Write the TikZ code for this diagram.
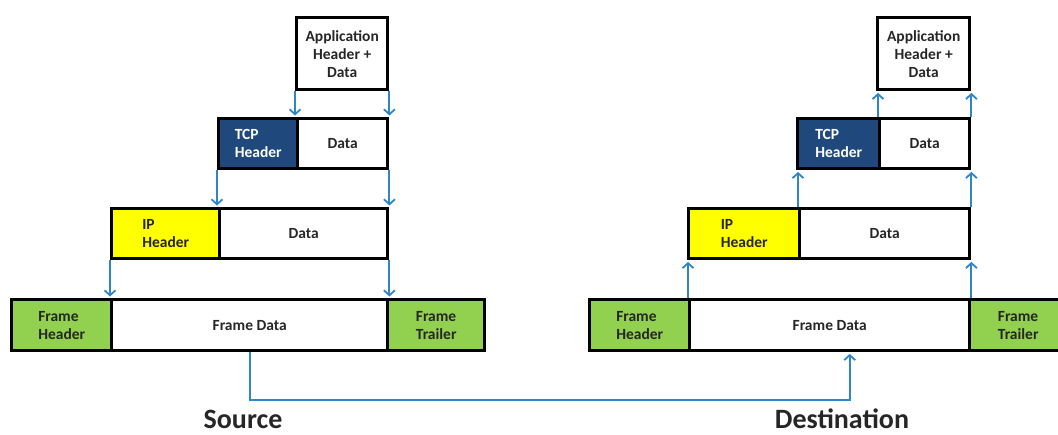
\documentclass[tikz,border=0pt]{standalone}
\usepackage{fontspec}
\setmainfont{Carlito}
\usetikzlibrary{arrows.meta}
\definecolor{tcpblue}{RGB}{31,73,125}
\definecolor{ipyellow}{RGB}{255,255,0}
\definecolor{framegreen}{RGB}{146,208,80}
\definecolor{arrowblue}{RGB}{46,134,200}
\definecolor{txt}{RGB}{38,38,38}
\tikzset{
  cell/.style={draw=black, line width=3.4pt, anchor=north west, inner sep=0pt,
    font=\fontsize{15.5}{18}\selectfont\bfseries, text=txt, align=center},
  hdr/.style={cell, align=left},
  tcpcell/.style={hdr, fill=tcpblue, text=white},
  ipcell/.style={hdr, fill=ipyellow},
  frcell/.style={hdr, fill=framegreen},
  flow/.style={draw=arrowblue, line width=2pt, -{Straight Barb[length=5pt,width=11pt,line width=1.8pt]}, shorten >=1.5pt},
  side/.style={font=\fontsize{28}{30}\selectfont\bfseries, text=txt}
}
\begin{document}
\begin{tikzpicture}[x=1pt,y=-1pt]
\useasboundingbox (0,0) rectangle (1058,434);
\clip (0,0) rectangle (1058,434);
% ---------- Source ----------
\node[cell, minimum width=91pt, minimum height=72pt] (appL) at (295,16) {Application\\Header +\\Data};
\node[tcpcell, minimum width=79pt, minimum height=50pt] (tcphL) at (217,117) {TCP\\Header};
\node[cell, minimum width=90pt, minimum height=50pt] (tcpdL) at (296,117) {Data};
\node[ipcell, minimum width=108pt, minimum height=50pt] (iphL) at (110,207) {IP\\Header};
\node[cell, minimum width=168pt, minimum height=50pt] (ipdL) at (218,207) {Data};
\node[frcell, minimum width=100pt, minimum height=51pt] (fhL) at (10,298) {Frame\\Header};
\node[cell, minimum width=276pt, minimum height=51pt] (fdL) at (110,298) {Frame Data};
\node[frcell, minimum width=97pt, minimum height=51pt] (ftL) at (386,298) {Frame\\Trailer};
% ---------- Destination ----------
\node[cell, minimum width=92pt, minimum height=72pt] (appR) at (876,16) {Application\\Header +\\Data};
\node[tcpcell, minimum width=82pt, minimum height=50pt] (tcphR) at (796,117) {TCP\\Header};
\node[cell, minimum width=90pt, minimum height=50pt] (tcpdR) at (878,117) {Data};
\node[ipcell, minimum width=111pt, minimum height=50pt] (iphR) at (687,207) {IP\\Header};
\node[cell, minimum width=170pt, minimum height=50pt] (ipdR) at (798,207) {Data};
\node[frcell, minimum width=100pt, minimum height=51pt] (fhR) at (588,298) {Frame\\Header};
\node[cell, minimum width=280pt, minimum height=51pt] (fdR) at (688,298) {Frame Data};
\node[frcell, minimum width=97pt, minimum height=51pt] (ftR) at (968,298) {Frame\\Trailer};
% ---------- encapsulation arrows (down) ----------
\draw[flow] (appL.south west) -- (appL.south west |- tcpdL.north);
\draw[flow] (appL.south east) -- (appL.south east |- tcpdL.north);
\draw[flow] (tcphL.south west) -- (tcphL.south west |- ipdL.north);
\draw[flow] (tcpdL.south east) -- (tcpdL.south east |- ipdL.north);
\draw[flow] (iphL.south west) -- (iphL.south west |- fdL.north);
\draw[flow] (ipdL.south east) -- (ipdL.south east |- fdL.north);
% ---------- decapsulation arrows (up) ----------
\draw[flow] (fdR.north west) -- (fdR.north west |- iphR.south);
\draw[flow] (fdR.north east) -- (fdR.north east |- ipdR.south);
\draw[flow] (ipdR.north west) -- (ipdR.north west |- tcphR.south);
\draw[flow] (ipdR.north east) -- (ipdR.north east |- tcpdR.south);
\draw[flow] (tcpdR.north west) -- (tcpdR.north west |- appR.south);
\draw[flow] (tcpdR.north east) -- (tcpdR.north east |- appR.south);
% ---------- link ----------
\coordinate (dst) at ([xshift=20pt]fdR.south);
\coordinate (bend) at (0,400);
\draw[flow] (fdL.south) |- (bend -| dst) -- (dst);
% ---------- labels ----------
\node[side] (src) at (243,419) {Source};
\node[side] (dest) at (842,419) {Destination};
\end{tikzpicture}
\end{document}
